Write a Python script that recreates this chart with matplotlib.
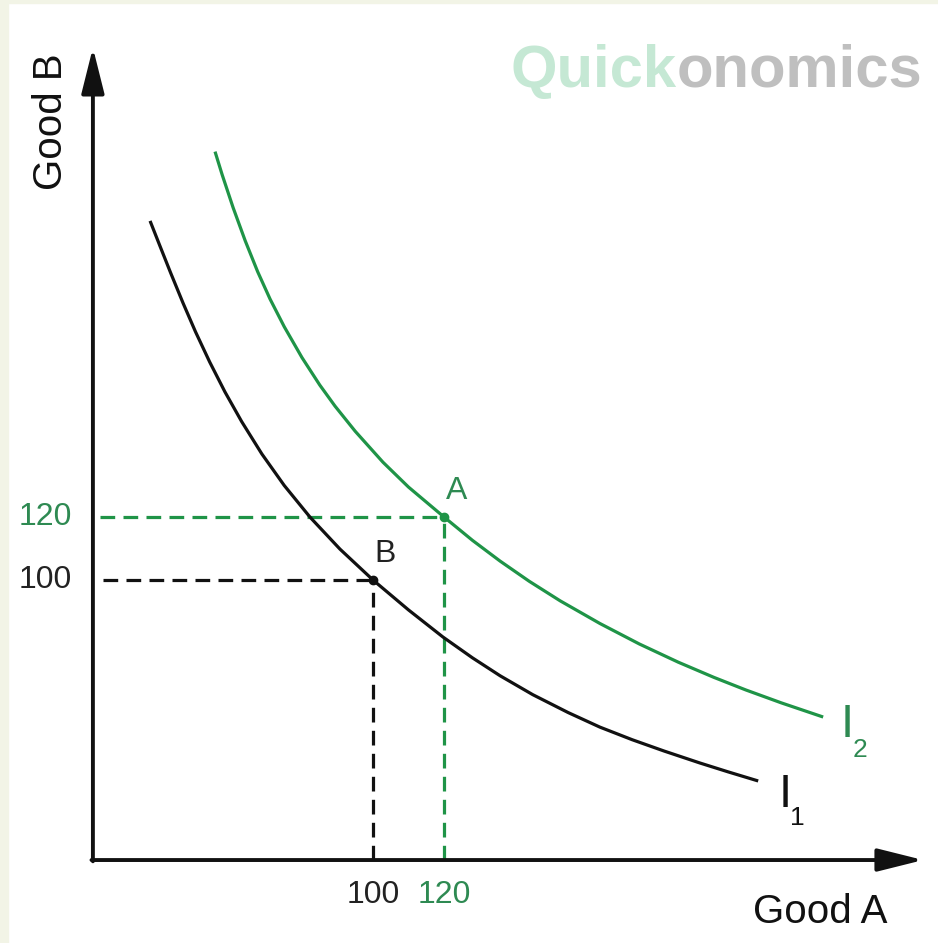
import matplotlib
matplotlib.use("Agg")
import matplotlib.pyplot as plt
from matplotlib.patches import Rectangle

# indifference curve I1 (black)
i1_x = [37.2, 40.0, 43.0, 46.5, 50.0, 54.0, 58.3, 63.0, 68.7, 75.0, 82.3, 90.7, 100.0,
        110.0, 119.7, 128.0, 135.8, 145.0, 155.0, 163.9, 173.0, 182.0, 192.1, 200.0, 208.5]
i1_y = [214.0, 206.0, 197.5, 187.9, 178.8, 169.2, 159.7, 150.3, 140.0, 130.0, 119.9, 109.8, 100.0,
        90.5, 81.9, 75.3, 69.6, 63.6, 57.9, 53.3, 49.3, 45.7, 41.9, 39.1, 36.2]
# indifference curve I2 (green)
i2_x = [55.5, 57.5, 60.6, 64.0, 67.5, 71.0, 75.0, 80.0, 85.0, 89.3, 95.0, 102.8, 110.0,
        120.0, 128.0, 135.8, 144.0, 152.7, 163.9, 175.0, 186.0, 196.0, 205.0, 215.0, 226.8]
i2_y = [236.0, 228.7, 218.2, 207.7, 197.9, 189.2, 180.4, 170.6, 161.9, 155.2, 147.2, 137.4, 129.5,
        120.0, 112.6, 106.0, 99.6, 93.4, 86.2, 79.7, 73.9, 69.1, 65.1, 61.0, 56.5]

point_a = (120, 120)
point_b = (100, 100)
origin = (21.1, 11.1)
axis_end = (255.0, 269.0)

black = "#111111"
green = "#1f9447"
green_txt = "#2e8a52"
sans = ["Liberation Sans", "DejaVu Sans"]

fig = plt.figure(figsize=(9.38, 9.43), dpi=100)
fig.patch.set_facecolor("white")
# thin beige frame on the left and top
fig.add_artist(Rectangle((0, 0), 8 / 938, 1, transform=fig.transFigure, color="#f2f4e6", zorder=0))
fig.add_artist(Rectangle((0, 1 - 3 / 943), 1, 3 / 943, transform=fig.transFigure, color="#f2f4e6", zorder=0))

ax = fig.add_axes([0, 0, 1, 1])
ax.set_xlim(-5.07, 259.15)
ax.set_ylim(-15.24, 284.13)
ax.axis("off")

# axes with arrow heads
arrow = dict(arrowstyle="-|>,head_length=2.0,head_width=0.5", mutation_scale=14,
             color=black, lw=2.8, shrinkA=0, shrinkB=0)
ax.annotate("", xy=(axis_end[0], origin[1]), xytext=(origin[0] - 0.4, origin[1]), arrowprops=arrow)
ax.annotate("", xy=(origin[0], axis_end[1]), xytext=(origin[0], origin[1] - 0.4), arrowprops=arrow)

# dashed guides
dash = (4.6, 2.6)
ax.plot([23.9, point_b[0]], [point_b[1], point_b[1]], color=black, lw=2.3, dashes=dash)
ax.plot([point_b[0], point_b[0]], [origin[1], point_b[1]], color=black, lw=2.3, dashes=dash)
ax.plot([23.1, point_a[0]], [point_a[1], point_a[1]], color=green, lw=2.3, dashes=dash)
ax.plot([point_a[0], point_a[0]], [origin[1], point_a[1]], color=green, lw=2.3, dashes=dash)

# curves
ax.plot(i1_x, i1_y, color=black, lw=2.3, solid_capstyle="butt", solid_joinstyle="round")
ax.plot(i2_x, i2_y, color=green, lw=2.3, solid_capstyle="butt", solid_joinstyle="round")

ax.plot(*point_b, "o", color=black, ms=6)
ax.plot(*point_a, "o", color=green, ms=6)
ax.annotate("B", point_b, xytext=(9, 19), textcoords="offset points", fontsize=23,
            family=sans, color="#222222", ha="center", va="center")
ax.annotate("A", point_a, xytext=(9, 19), textcoords="offset points", fontsize=23,
            family=sans, color=green_txt, ha="center", va="center")

# tick labels
ax.text(15.2, point_b[1], "100", fontsize=23, family=sans, color="#222222", ha="right", va="center")
ax.text(15.2, point_a[1], "120", fontsize=23, family=sans, color=green_txt, ha="right", va="center")
ax.text(point_b[0], 0.0, "100", fontsize=23, family=sans, color="#222222", ha="center", va="center")
ax.text(point_a[0], 0.0, "120", fontsize=23, family=sans, color=green_txt, ha="center", va="center")

# axis titles
ax.text(225.9, -5.4, "Good A", fontsize=29, family=sans, color="#111111", ha="center", va="center")
ax.text(9.3, 245.4, "Good B", fontsize=29, family=sans, color="#111111", ha="center", va="center",
        rotation=90)

# curve labels
ax.text(216.1, 31.7, "I", fontsize=34, family=sans, color="#111111", ha="center", va="center")
ax.text(219.6, 24.4, "1", fontsize=19, family=sans, color="#111111", ha="center", va="center")
ax.text(233.5, 54.0, "I", fontsize=34, family=sans, color=green_txt, ha="center", va="center")
ax.text(237.2, 46.0, "2", fontsize=19, family=sans, color=green_txt, ha="center", va="center")

# watermark
fig.text(0.7217, 0.908, "Quick", fontsize=43, fontweight="bold", family=sans,
         color="#c5e8d4", ha="right", va="baseline")
fig.text(0.7217, 0.908, "onomics", fontsize=43, fontweight="bold", family=sans,
         color="#bfbfbf", ha="left", va="baseline")

fig.savefig("out.png", dpi=100)
